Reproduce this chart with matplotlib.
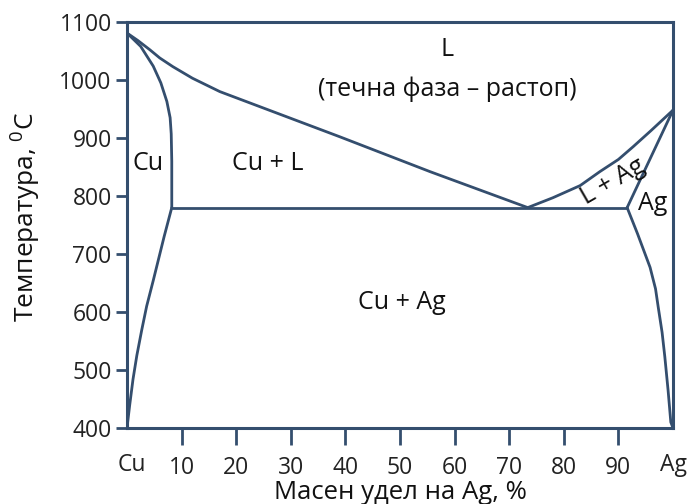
import matplotlib
matplotlib.use("Agg")
import matplotlib.pyplot as plt

# ---- data (wt% Ag, temperature °C) ----
liq_cu_x = [0, 2.0, 4.2, 6.0, 8.4, 12.0, 17.0, 28.0, 39.0, 55.5, 73.4]
liq_cu_t = [1081, 1068, 1052, 1038, 1023, 1003, 980, 941, 902, 842, 780]

liq_ag_x = [73.4, 78.0, 83.0, 86.6, 90.0, 92.7, 96.0, 100]
liq_ag_t = [780, 797, 818, 842, 863, 885, 913, 948]

sol_cu_x = [0, 2.5, 4.8, 6.2, 7.3, 7.9, 8.1, 8.2, 8.2]
sol_cu_t = [1081, 1058, 1024, 995, 963, 935, 907, 860, 780]

solv_cu_x = [8.2, 6.8, 4.8, 3.6, 2.7, 1.8, 1.1, 0.5, 0]
solv_cu_t = [780, 730, 654, 610, 569, 525, 484, 440, 400]

sol_ag_x = [100, 91.6]
sol_ag_t = [948, 780]

solv_ag_x = [91.6, 93.5, 95.8, 96.8, 97.3, 98.0, 98.5, 99.1, 99.6, 100]
solv_ag_t = [780, 735, 677, 640, 608, 565, 523, 465, 410, 400]

eut_x = [8.2, 91.6]
eut_t = [780, 780]

x_ticks = [10, 20, 30, 40, 50, 60, 70, 80, 90]
x_ticklabels = ["10", "20", "30", "40", "50", "60", "70", "80", "90"]
y_ticks = [400, 500, 600, 700, 800, 900, 1000, 1100]

region_labels = ["L", "(течна фаза – растоп)", "Cu", "Cu + L", "L + Ag", "Ag", "Cu + Ag"]
region_x = [58.6, 58.6, 3.9, 25.8, 89.0, 96.3, 50.4]
region_t = [1052, 984, 856, 856, 825, 787, 617]
region_rot = [0, 0, 0, 0, 30, 0, 0]

plt.rcParams['font.family'] = ['Open Sans', 'DejaVu Sans']
COL = '#344e6e'
LW = 2.0

fig = plt.figure(figsize=(6.91, 5.04), dpi=100)
ax = fig.add_axes([127/691, 1 - 428/504, (673-127)/691, (428-22)/504])

for xs, ts in [(liq_cu_x, liq_cu_t), (liq_ag_x, liq_ag_t), (sol_cu_x, sol_cu_t),
               (solv_cu_x, solv_cu_t), (sol_ag_x, sol_ag_t), (solv_ag_x, solv_ag_t),
               (eut_x, eut_t)]:
    ax.plot(xs, ts, color=COL, lw=LW, solid_joinstyle='round', solid_capstyle='round')

ax.set_xlim(0, 100)
ax.set_ylim(400, 1100)

for s in ax.spines.values():
    s.set_color(COL)
    s.set_linewidth(2.2)

ax.set_xticks(x_ticks)
ax.set_xticklabels(x_ticklabels)
ax.set_yticks(y_ticks)
ax.tick_params(axis='x', direction='out', length=12, width=2, color=COL, pad=8,
               labelsize=16.5)
ax.tick_params(axis='y', direction='out', length=8, width=2, color=COL, pad=3,
               labelsize=16.5)
for lbl in ax.get_xticklabels() + ax.get_yticklabels():
    lbl.set_color('#222222')

# end labels Cu and Ag under the axis
ax.text(0.9, -0.092, "Cu", transform=ax.get_xaxis_transform(), ha='center', va='center',
        fontsize=16.5, color='#222222')
ax.text(100, -0.092, "Ag", transform=ax.get_xaxis_transform(), ha='center', va='center',
        fontsize=16.5, color='#222222')

for lab, x, t, r in zip(region_labels, region_x, region_t, region_rot):
    ax.text(x, t, lab, ha='center', va='center', fontsize=18, rotation=r,
            rotation_mode='anchor', color='#111111')

ax.set_xlabel("Масен удел на Ag, %", fontsize=18.5, labelpad=0, color='#111111')
ax.set_ylabel("Температура, $^{\\mathregular{0}}$C", fontsize=19, color='#111111')
ax.yaxis.set_label_coords(-0.155, 0.52)

fig.savefig("out.png", dpi=100)
